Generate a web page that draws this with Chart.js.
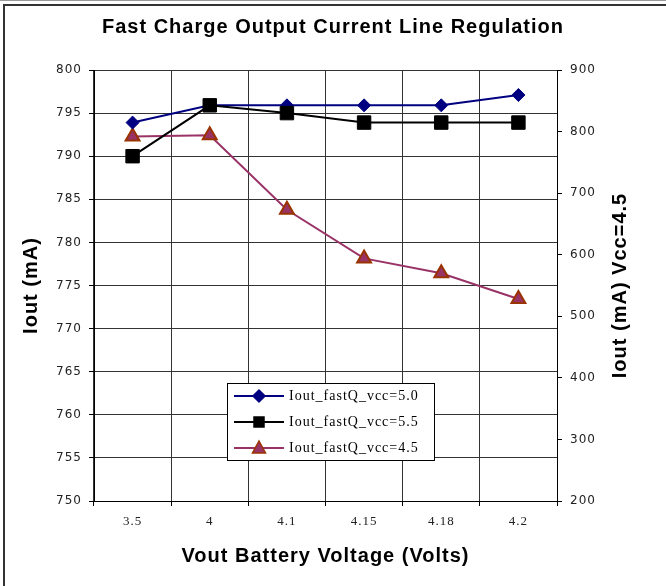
<!DOCTYPE html>
<html>
<head>
<meta charset="utf-8">
<script src="https://cdn.jsdelivr.net/npm/chart.js@4"></script>
<style>
  body { margin: 0; background: #fff; }
  #wrap { width: 666px; height: 586px; position: relative; }
</style>
</head>
<body>
<div id="wrap"><canvas id="myChart"></canvas></div>
<script>
// valores
var voltages = ['3.5', '4', '4.1', '4.15', '4.18', '4.2'];
var iout_vcc50 = [793.9, 795.9, 795.9, 795.9, 795.9, 797.1];
var iout_vcc55 = [790.0, 795.9, 795.0, 793.9, 793.9, 793.9];
var iout_vcc45 = [792, 794, 673, 594, 570, 528];
var seriesNames = ['Iout_fastQ_vcc=5.0', 'Iout_fastQ_vcc=5.5', 'Iout_fastQ_vcc=4.5'];
var rightTitle = 'Iout (mA) Vcc=4.5';

// espaciado de letras, marco exterior y titulo del eje derecho
var framePlugin = {
    id: 'frame',
    beforeDraw: function(chart) {
        chart.ctx.letterSpacing = '1px';
    },
    afterDraw: function(chart) {
        var ctx = chart.ctx;
        ctx.save();
        ctx.strokeStyle = '#999';
        ctx.lineWidth = 1;
        ctx.beginPath();
        ctx.moveTo(0, 0.5); ctx.lineTo(666, 0.5);
        ctx.stroke();
        ctx.strokeStyle = '#333';
        ctx.lineWidth = 2;
        ctx.beginPath();
        ctx.moveTo(666, 5); ctx.lineTo(4, 5); ctx.lineTo(4, 586);
        ctx.stroke();

        var area = chart.chartArea;
        var sc = chart.scales.y2;
        ctx.translate(sc.right - 46, (area.top + area.bottom) / 2);
        ctx.rotate(-Math.PI / 2);
        ctx.fillStyle = '#000';
        ctx.font = 'bold 20px "Liberation Sans", Arial';
        ctx.textAlign = 'center';
        ctx.textBaseline = 'middle';
        ctx.fillText(rightTitle, 0, 0);
        ctx.restore();
    }
};

// leyenda dentro del area del grafico
var boxLegend = {
    id: 'boxLegend',
    afterDraw: function(chart) {
        var ctx = chart.ctx;
        var x = 227, y = 383, w = 207, h = 77;
        ctx.save();
        ctx.fillStyle = '#fff';
        ctx.fillRect(x, y, w, h);
        ctx.strokeStyle = '#000';
        ctx.lineWidth = 1;
        ctx.strokeRect(x + 0.5, y + 0.5, w, h);
        chart.data.datasets.forEach(function(ds, i) {
            var cy = y + 13 + i * 26;
            ctx.strokeStyle = ds.borderColor;
            ctx.lineWidth = 2;
            ctx.beginPath();
            ctx.moveTo(x + 7, cy); ctx.lineTo(x + 57, cy);
            ctx.stroke();
            var mx = x + 32;
            ctx.fillStyle = ds.pointBackgroundColor;
            ctx.strokeStyle = ds.pointBorderColor;
            ctx.lineWidth = 1.5;
            ctx.beginPath();
            if (ds.pointStyle === 'rectRot') {
                ctx.moveTo(mx, cy - 6); ctx.lineTo(mx + 6, cy); ctx.lineTo(mx, cy + 6); ctx.lineTo(mx - 6, cy);
            } else if (ds.pointStyle === 'rect') {
                ctx.rect(mx - 5, cy - 5, 10, 10);
            } else {
                ctx.moveTo(mx, cy - 7); ctx.lineTo(mx + 6.5, cy + 5); ctx.lineTo(mx - 6.5, cy + 5);
            }
            ctx.closePath();
            ctx.fill();
            ctx.stroke();
            ctx.fillStyle = '#000';
            ctx.font = '14px "Liberation Serif"';
            ctx.textBaseline = 'middle';
            ctx.fillText(ds.label, x + 62, cy);
        });
        ctx.restore();
    }
};

var ctx = document.getElementById('myChart').getContext('2d');
var myChart = new Chart(ctx, {
    type: 'line',
    data: {
        labels: voltages,
        datasets: [{
            label: seriesNames[0],
            data: iout_vcc50,
            yAxisID: 'y',
            order: 1,
            borderColor: '#000080',
            backgroundColor: '#000080',
            pointBackgroundColor: '#000080',
            pointBorderColor: '#000080',
            pointStyle: 'rectRot',
            pointRadius: 6.5,
            pointBorderWidth: 1,
            borderWidth: 2
        }, {
            label: seriesNames[1],
            data: iout_vcc55,
            yAxisID: 'y',
            order: 0,
            borderColor: '#000000',
            backgroundColor: '#000000',
            pointBackgroundColor: '#000000',
            pointBorderColor: '#000000',
            pointStyle: 'rect',
            pointRadius: 9.5,
            pointBorderWidth: 1,
            borderWidth: 2
        }, {
            label: seriesNames[2],
            data: iout_vcc45,
            yAxisID: 'y2',
            order: 2,
            borderColor: '#993366',
            backgroundColor: '#993366',
            pointBackgroundColor: '#993366',
            pointBorderColor: '#993300',
            pointStyle: 'triangle',
            pointRadius: 8,
            pointBorderWidth: 2,
            borderWidth: 2
        }]
    },
    options: {
        responsive: true,
        maintainAspectRatio: false,
        animation: false,
        layout: { padding: 0 },
        plugins: {
            legend: { display: false },
            tooltip: { enabled: false },
            title: {
                display: true,
                text: 'Fast Charge Output Current Line Regulation',
                color: '#000',
                font: { family: '"Liberation Sans", Arial', size: 20, weight: 'bold' },
                padding: { top: 15, bottom: 31 }
            }
        },
        scales: {
            x: {
                offset: true,
                afterFit: function(scale) { scale.height = 85; },
                grid: { offset: true, color: '#333', lineWidth: 1, tickLength: 5, tickColor: '#000' },
                border: { color: '#000', width: 1 },
                ticks: { color: '#222', padding: 8, font: { family: '"Liberation Serif"', size: 13 } },
                title: {
                    display: true,
                    text: 'Vout Battery Voltage (Volts)',
                    color: '#000',
                    font: { family: '"Liberation Sans", Arial', size: 20, weight: 'bold' },
                    padding: { top: 0, bottom: 18 }
                }
            },
            y: {
                position: 'left',
                min: 750,
                max: 800,
                afterFit: function(scale) { scale.width = 94; },
                grid: { color: '#333', lineWidth: 1, tickLength: 5, tickColor: '#000' },
                border: { color: '#000', width: 1 },
                ticks: { stepSize: 5, color: '#222', padding: 7, font: { family: '"DejaVu Sans"', size: 12 } },
                title: {
                    display: true,
                    text: 'Iout (mA)',
                    color: '#000',
                    font: { family: '"Liberation Sans", Arial', size: 20, weight: 'bold' },
                    padding: { top: 19, bottom: 0 }
                }
            },
            y2: {
                position: 'right',
                min: 200,
                max: 900,
                afterFit: function(scale) { scale.width = 109; },
                grid: { drawOnChartArea: false, tickLength: 5, tickColor: '#000' },
                border: { color: '#000', width: 1 },
                ticks: { stepSize: 100, color: '#222', padding: 8, font: { family: '"DejaVu Sans"', size: 12 } },
                title: { display: false }
            }
        }
    },
    plugins: [framePlugin, boxLegend]
});
</script>
</body>
</html>
